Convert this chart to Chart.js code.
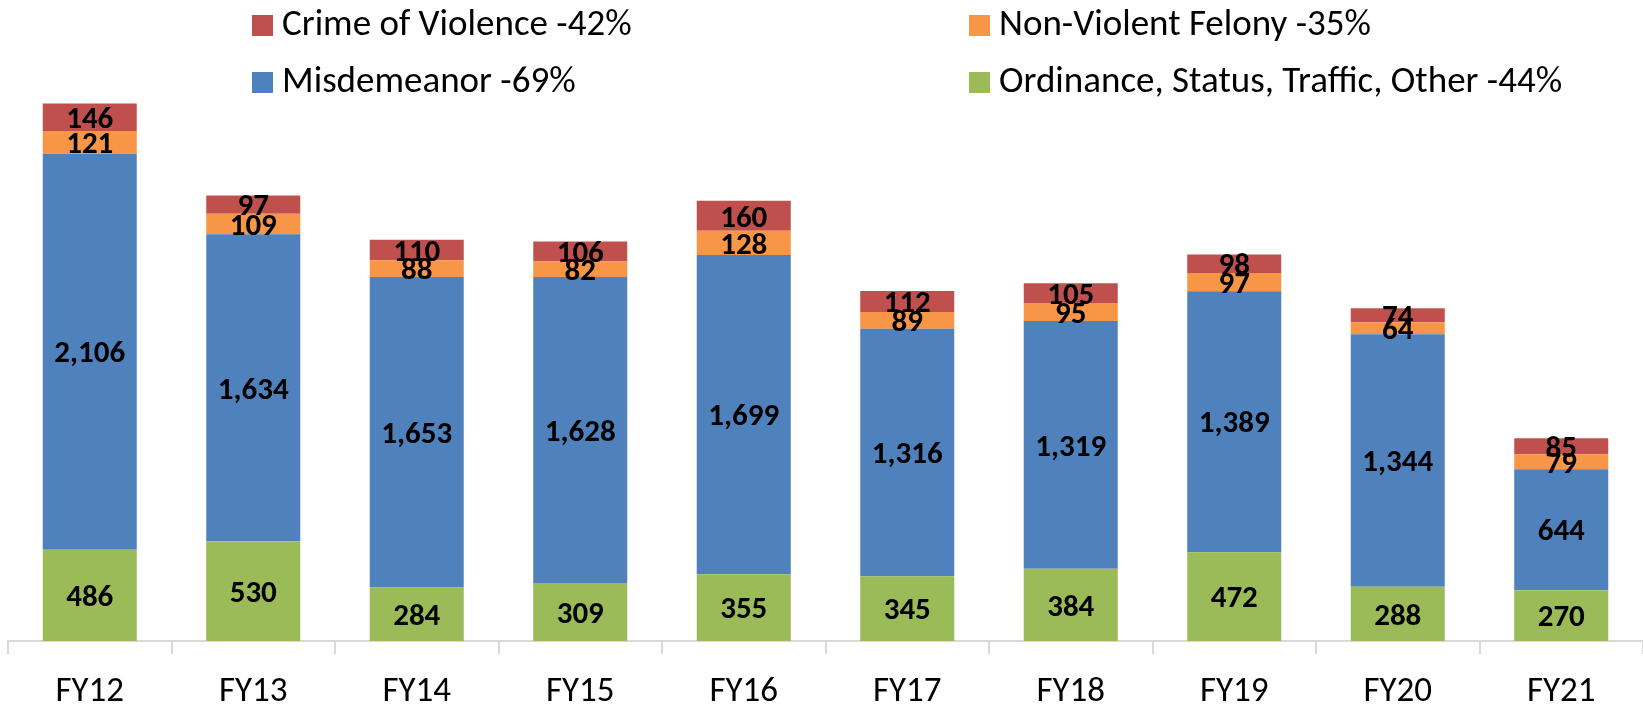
<!DOCTYPE html>
<html>
<head>
<meta charset="utf-8">
<script src="https://cdn.jsdelivr.net/npm/chart.js@4.4.1/dist/chart.umd.min.js"></script>
<style>
  html, body { margin: 0; padding: 0; background: #fff; }
  #wrap { width: 1643px; height: 705px; }
</style>
</head>
<body>
<div id="wrap"><canvas id="chart"></canvas></div>
<script>
const years = ['FY12', 'FY13', 'FY14', 'FY15', 'FY16', 'FY17', 'FY18', 'FY19', 'FY20', 'FY21'];
const ordinance = [486, 530, 284, 309, 355, 345, 384, 472, 288, 270];
const misdemeanor = [2106, 1634, 1653, 1628, 1699, 1316, 1319, 1389, 1344, 644];
const nonViolent = [121, 109, 88, 82, 128, 89, 95, 97, 64, 79];
const violence = [146, 97, 110, 106, 160, 112, 105, 98, 74, 85];

const seriesLabels = {
  ordinance: 'Ordinance, Status, Traffic, Other -44%',
  misdemeanor: 'Misdemeanor -69%',
  nonViolent: 'Non-Violent Felony -35%',
  violence: 'Crime of Violence -42%'
};

const FONT = 'Carlito, Calibri, Lato, sans-serif';

// labels centred in each stacked piece
const segmentLabels = {
  id: 'segmentLabels',
  afterDatasetsDraw(chart) {
    const ctx = chart.ctx;
    ctx.save();
    ctx.font = `bold 31px ${FONT}`;
    ctx.fillStyle = '#000';
    ctx.textAlign = 'center';
    ctx.textBaseline = 'middle';
    chart.data.datasets.forEach((ds, i) => {
      const meta = chart.getDatasetMeta(i);
      meta.data.forEach((bar, j) => {
        const { x, y, base } = bar.getProps(['x', 'y', 'base'], true);
        ctx.fillText(ds.data[j].toLocaleString('en-US'), x, (y + base) / 2 + 3);
      });
    });
    ctx.restore();
  }
};

// two-column legend laid over the top of the plot, like the Excel one
const gridLegend = {
  id: 'gridLegend',
  afterDraw(chart) {
    const ctx = chart.ctx;
    const order = [3, 2, 1, 0];
    const cols = [252, 969];
    const rows = [15, 72];
    const box = 21;
    ctx.save();
    ctx.font = `37px ${FONT}`;
    ctx.textBaseline = 'middle';
    ctx.textAlign = 'left';
    order.forEach((dsIndex, k) => {
      const ds = chart.data.datasets[dsIndex];
      const x = cols[k % 2];
      const y = rows[Math.floor(k / 2)];
      ctx.fillStyle = ds.backgroundColor;
      ctx.fillRect(x, y, box, box);
      ctx.fillStyle = '#000';
      ctx.fillText(ds.label, x + box + 9, y + box / 2);
    });
    ctx.restore();
  }
};

const ctx = document.getElementById('chart').getContext('2d');
new Chart(ctx, {
  type: 'bar',
  data: {
    labels: years,
    datasets: [
      { label: seriesLabels.ordinance, data: ordinance, backgroundColor: '#9BBB59' },
      { label: seriesLabels.misdemeanor, data: misdemeanor, backgroundColor: '#4F81BD' },
      { label: seriesLabels.nonViolent, data: nonViolent, backgroundColor: '#F79646' },
      { label: seriesLabels.violence, data: violence, backgroundColor: '#C0504D' }
    ]
  },
  options: {
    responsive: true,
    maintainAspectRatio: false,
    animation: false,
    layout: { padding: { left: 8, right: 0, top: 0, bottom: 0 } },
    datasets: {
      bar: { categoryPercentage: 1, barPercentage: 0.575, borderWidth: 0 }
    },
    plugins: {
      legend: { display: false },
      tooltip: { enabled: false }
    },
    scales: {
      x: {
        stacked: true,
        grid: {
          offset: true,
          drawOnChartArea: false,
          drawTicks: true,
          tickLength: 13,
          color: '#d9d9d9',
          lineWidth: 2
        },
        border: { color: '#d9d9d9', width: 2 },
        ticks: {
          color: '#000',
          font: { family: FONT, size: 35 },
          padding: 17,
          maxRotation: 0
        },
        afterFit(scale) { scale.height = 64; }
      },
      y: {
        stacked: true,
        display: false,
        min: 0,
        max: 3410
      }
    }
  },
  plugins: [segmentLabels, gridLegend]
});
</script>
</body>
</html>
